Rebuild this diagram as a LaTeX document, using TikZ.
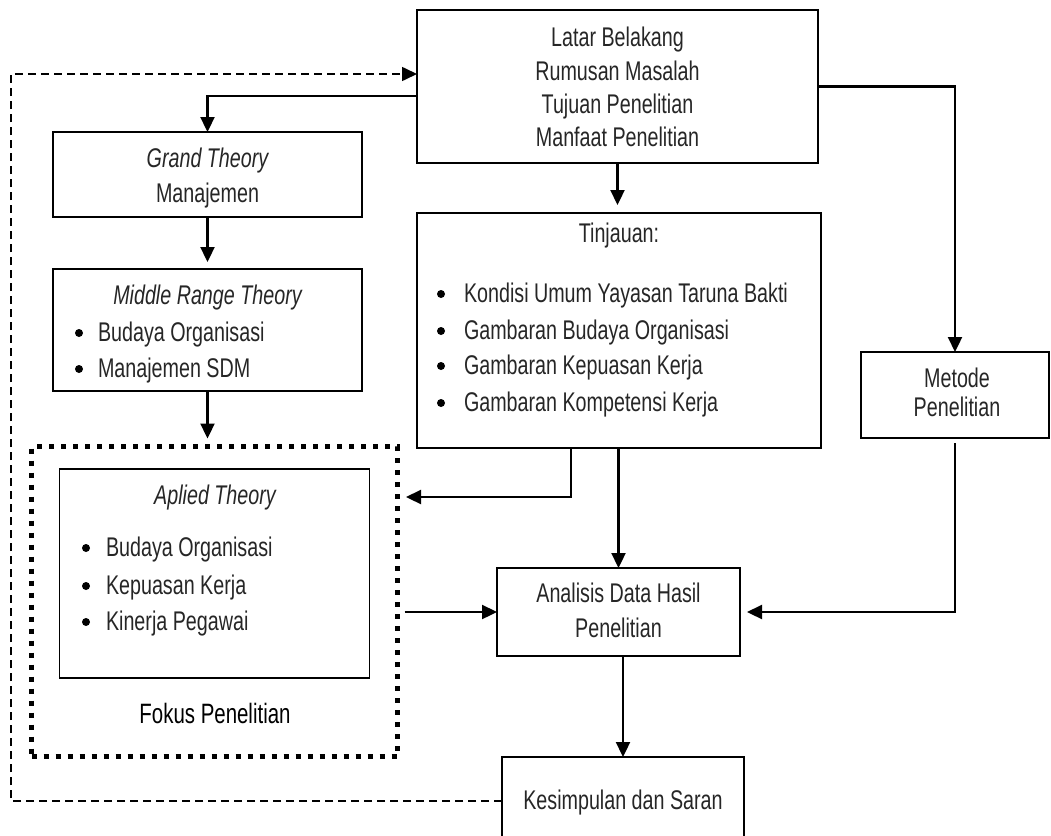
\documentclass[tikz,border=0pt]{standalone}
\usepackage{fontspec}
\setmainfont{Liberation Sans}[FakeStretch=0.73]
\usetikzlibrary{arrows.meta}
\begin{document}
\begin{tikzpicture}[x=1pt,y=-1pt,
  box/.style={draw, line width=1.3pt, rectangle, inner sep=0pt, outer sep=0pt},
  dotbox/.style={draw, line width=5pt, dash pattern=on 5pt off 7pt, rectangle, inner sep=0pt, outer sep=0pt},
  txt/.style={anchor=base, inner sep=0pt, outer sep=0pt, font=\fontsize{27}{32}\selectfont, text=black!85},
  itxt/.style={txt, font=\fontsize{27}{32}\selectfont\itshape},
  ltxt/.style={txt, anchor=base west},
  bul/.style={circle, fill=black, inner sep=0pt, outer sep=0pt, minimum size=8pt},
  arr/.style={line width=2.3pt, -{Triangle[length=15pt,width=14pt]}},
  darr/.style={line width=1.6pt, dash pattern=on 8pt off 5pt, -{Triangle[length=15pt,width=14pt]}},
]
\clip (0,0) rectangle (1051,835);
\useasboundingbox (0,0) rectangle (1051,835);

% boxes
\node[box, minimum width=401pt, minimum height=153pt] (latar) at (617.5,86.5) {};
\node[box, minimum width=309pt, minimum height=85pt] (grand) at (207.5,174.5) {};
\node[box, minimum width=309pt, minimum height=122pt] (middle) at (207.5,330) {};
\node[dotbox, minimum width=366pt, minimum height=310pt] (fokus) at (214.5,601.5) {};
\node[box, minimum width=310pt, minimum height=209pt] (aplied) at (214.5,573.5) {};
\node[box, minimum width=404pt, minimum height=235pt] (tinjauan) at (619,330.5) {};
\node[box, minimum width=188pt, minimum height=86pt] (metode) at (955,395) {};
\node[box, minimum width=243pt, minimum height=88pt] (analisis) at (618.5,612) {};
\node[box, minimum width=242pt, minimum height=88pt] (kesimpulan) at (623,801) {};

% texts
\node[txt] (l1) at (617.5,46.5) {Latar Belakang};
\node[txt] (l2) at (617.5,80) {Rumusan Masalah};
\node[txt] (l3) at (617.5,113) {Tujuan Penelitian};
\node[txt] (l4) at (617.5,146.5) {Manfaat Penelitian};

\node[itxt] (g1) at (207.5,167.5) {Grand Theory};
\node[txt] (g2) at (207.5,202.5) {Manajemen};

\node[itxt] (m1) at (207.5,304.5) {Middle Range Theory};
\node[bul] (mb1) at (79,333) {};
\node[ltxt] (m2) at (98,341.5) {Budaya Organisasi};
\node[bul] (mb2) at (79,369) {};
\node[ltxt] (m3) at (98,377.5) {Manajemen SDM};

\node[itxt] (a1) at (215,504.5) {Aplied Theory};
\node[bul] (ab1) at (86,548) {};
\node[ltxt] (a2) at (106,556.5) {Budaya Organisasi};
\node[bul] (ab2) at (86,586) {};
\node[ltxt] (a3) at (106,594.5) {Kepuasan Kerja};
\node[bul] (ab3) at (86,622) {};
\node[ltxt] (a4) at (106,630.5) {Kinerja Pegawai};

\node[txt, font=\fontsize{28}{33}\selectfont, text=black] (fk) at (215,723) {Fokus Penelitian};

\node[txt] (t0) at (619,242.5) {Tinjauan:};
\node[bul] (tb1) at (441,294) {};
\node[ltxt] (t1) at (464,302.5) {Kondisi Umum Yayasan Taruna Bakti};
\node[bul] (tb2) at (441,331) {};
\node[ltxt] (t2) at (464,339.5) {Gambaran Budaya Organisasi};
\node[bul] (tb3) at (441,366) {};
\node[ltxt] (t3) at (464,374.5) {Gambaran Kepuasan Kerja};
\node[bul] (tb4) at (441,403) {};
\node[ltxt] (t4) at (464,411.5) {Gambaran Kompetensi Kerja};

\node[txt] (me1) at (957,387.5) {Metode};
\node[txt] (me2) at (957,416.5) {Penelitian};

\node[txt] (an1) at (618.5,602.5) {Analisis Data Hasil};
\node[txt] (an2) at (618.5,637.5) {Penelitian};

\node[txt] (ks) at (623,809.5) {Kesimpulan dan Saran};

% connectors
\coordinate (dc) at (11,74);
\coordinate (t2f) at (406,497);
\draw[arr] ([yshift=-9.5pt]latar.west) -| (grand.north);
\draw[arr] (latar.south) -- ([yshift=8pt]tinjauan.north -| latar.south);
\draw[arr] (latar.east) -| (metode.north);
\draw[arr] (grand.south) -- ([yshift=7pt]middle.north);
\draw[arr] (middle.south) -- ([yshift=8pt]middle.south |- fokus.north);
\draw[arr] ([xshift=-48pt]tinjauan.south) |- (t2f);
\draw[arr] (analisis.north |- tinjauan.south) -- (analisis.north);
\draw[arr] ([xshift=7pt]fokus.east |- analisis.west) -- (analisis.west);
\draw[arr] ([yshift=-5pt]metode.south) |- ([xshift=7pt]analisis.east);
\draw[arr] (kesimpulan.north |- analisis.south) -- (kesimpulan.north);
\draw[darr] (kesimpulan.west) -| (dc) -- ([yshift=12.5pt]latar.west);
\end{tikzpicture}
\end{document}
